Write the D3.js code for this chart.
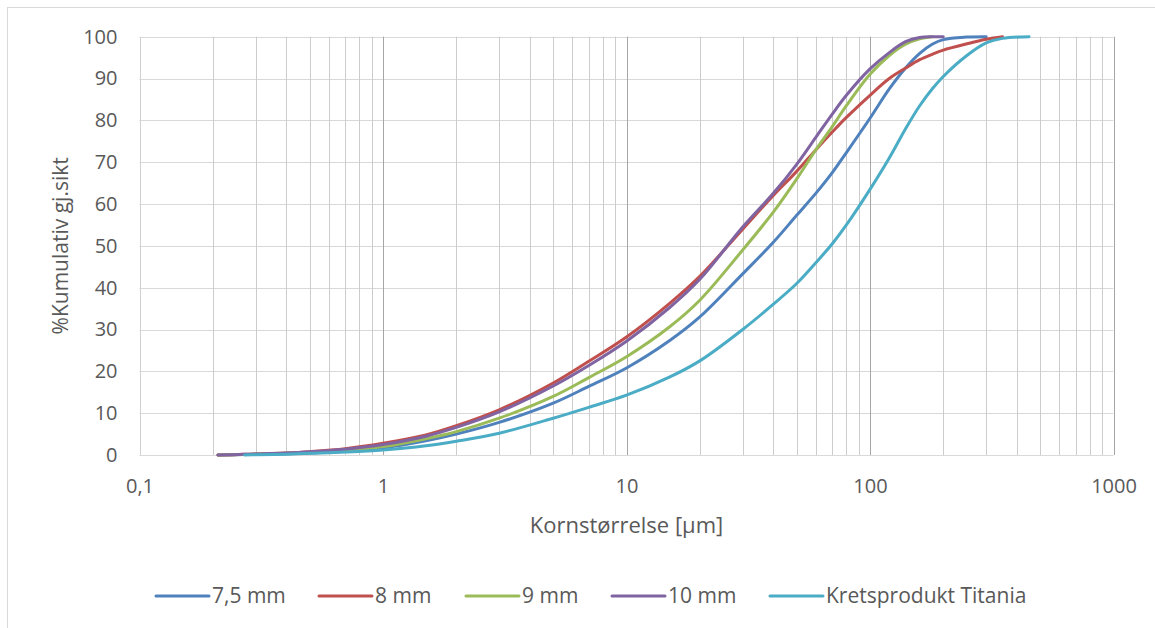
<!DOCTYPE html>
<html>
<head>
<meta charset="utf-8">
<script src="https://cdn.jsdelivr.net/npm/d3@7"></script>
<style>
  body { margin: 0; background: #fff; }
  svg text { font-family: "Open Sans", sans-serif; fill: #595959; }
</style>
</head>
<body>
<div id="chart"></div>
<script>
// chart size and plot box
const width = 1155;
const height = 628;
const margin = {left: 139.5, right: 41.5, top: 36.7, bottom: 173};

// particle size (µm) shared by all series
const sizes = [0.21, 0.27, 0.3, 0.4, 0.5, 0.7, 1, 1.5, 2, 3, 5, 7, 10, 15, 20, 30, 40, 50, 60, 70, 80, 100, 120, 140, 160, 180, 200, 250, 300, 350, 450];

// cumulative % passing (null = no point)
const s75 = [0, 0.1, 0.15, 0.3, 0.5, 0.9, 1.7, 3.4, 5.0, 7.8, 12.4, 16.4, 20.8, 27.3, 33, 43.3, 50.8, 57.3, 62.6, 67.5, 72.3, 80.5, 87.5, 92.5, 96, 98.2, 99.3, 99.9, 100, null, null];
const s8 = [0, 0.15, 0.25, 0.5, 0.8, 1.5, 2.8, 4.8, 7.0, 10.8, 17.2, 22.4, 28.2, 36.2, 42.7, 54, 62, 67.8, 73, 77.2, 80.7, 86, 90, 92.5, 94.5, 95.8, 96.8, 98.3, 99.4, 100, null];
const s9 = [0, 0.1, 0.2, 0.4, 0.6, 1.1, 2.0, 3.9, 5.6, 8.8, 14.0, 18.5, 23.5, 30.6, 37, 49, 58, 66, 73, 78.5, 83.5, 91, 95.5, 98.2, 99.5, 100, null, null, null, null, null];
const s10 = [0, 0.15, 0.22, 0.45, 0.75, 1.4, 2.5, 4.5, 6.6, 10.3, 16.5, 21.4, 27.2, 35.2, 42, 54.5, 62.5, 69.5, 76, 81.5, 86, 92.3, 96.2, 98.8, 99.8, 100, 100, null, null, null, null];
const sTitania = [null, 0, 0.05, 0.2, 0.4, 0.7, 1.2, 2.2, 3.3, 5.2, 8.8, 11.4, 14.3, 18.6, 22.5, 30, 36, 41, 46, 50.5, 55, 63.5, 71, 78, 83.5, 87.5, 90.5, 95.5, 98.5, 99.6, 100];

const seriesNames = ["7,5 mm", "8 mm", "9 mm", "10 mm", "Kretsprodukt Titania"];
const seriesValues = [s75, s8, s9, s10, sTitania];
const colors = ["#4f81bd", "#c0504d", "#9bbb59", "#8064a2", "#4bacc6"];

const xTicks = [0.1, 1, 10, 100, 1000];
const yTicks = [0, 10, 20, 30, 40, 50, 60, 70, 80, 90, 100];

const svg = d3.select("#chart")
  .append("svg")
  .attr("width", width)
  .attr("height", height);

// outer chart border
svg.append("rect")
  .attr("x", 7.5).attr("y", 7.5)
  .attr("width", 1160).attr("height", 640)
  .attr("fill", "none")
  .attr("stroke", "#d9d9d9");

const x = d3.scaleLog()
  .domain([0.1, 1000])
  .range([margin.left, width - margin.right]);

const y = d3.scaleLinear()
  .domain([0, 100])
  .range([height - margin.bottom, margin.top]);

// horizontal grid
svg.append("g")
  .selectAll("line")
  .data(yTicks)
  .join("line")
    .attr("x1", x(0.1)).attr("x2", x(1000))
    .attr("y1", d => Math.round(y(d)) + 0.5)
    .attr("y2", d => Math.round(y(d)) + 0.5)
    .attr("stroke", "#d9d9d9");

// vertical grid, darker at decades
svg.append("g")
  .selectAll("line")
  .data(x.ticks())
  .join("line")
    .attr("x1", d => Math.round(x(d)) + 0.5)
    .attr("x2", d => Math.round(x(d)) + 0.5)
    .attr("y1", y(0)).attr("y2", y(100))
    .attr("stroke", d => {
      const e = Math.log10(d);
      if (d === 0.1) return "#d0d0d0";
      return Math.abs(e - Math.round(e)) < 1e-9 ? "#a6a6a6" : "#cccccc";
    });

// axes labels
const no = d3.formatLocale({decimal: ",", thousands: "", grouping: [3], currency: ["", ""]});

svg.append("g")
  .attr("transform", `translate(0,${y(0)})`)
  .call(d3.axisBottom(x).tickValues(xTicks).tickSize(0).tickPadding(24)
        .tickFormat(no.format("~g")))
  .call(g => g.select(".domain").remove())
  .selectAll("text")
    .attr("font-size", "20px")
    .attr("fill", "#595959");

svg.append("g")
  .attr("transform", `translate(${margin.left},0)`)
  .call(d3.axisLeft(y).tickValues(yTicks).tickSize(0).tickPadding(22))
  .call(g => g.select(".domain").remove())
  .selectAll("text")
    .attr("font-size", "20px")
    .attr("fill", "#595959");

svg.append("text")
  .attr("x", (x(0.1) + x(1000)) / 2)
  .attr("y", 533)
  .attr("text-anchor", "middle")
  .attr("font-size", "22px")
  .text("Kornstørrelse [µm]");

svg.append("text")
  .attr("transform", `translate(68,${(y(0) + y(100)) / 2}) rotate(-90)`)
  .attr("text-anchor", "middle")
  .attr("font-size", "21px")
  .text("%Kumulativ gj.sikt");

// lines
const line = d3.line()
  .defined(d => d[1] !== null)
  .x(d => x(d[0]))
  .y(d => y(d[1]))
  .curve(d3.curveCatmullRom.alpha(0.5));

seriesValues.forEach((vals, i) => {
  svg.append("path")
    .datum(sizes.map((s, j) => [s, vals[j]]))
    .attr("fill", "none")
    .attr("stroke", colors[i])
    .attr("stroke-width", 3)
    .attr("stroke-linecap", "round")
    .attr("d", line);
});

// legend
const legendX = [156, 319, 466, 612, 770];
const legend = svg.append("g");
seriesNames.forEach((name, i) => {
  const g = legend.append("g").attr("transform", `translate(${legendX[i]},596)`);
  g.append("line")
    .attr("x1", 0).attr("x2", 53)
    .attr("stroke", colors[i])
    .attr("stroke-width", 3)
    .attr("stroke-linecap", "round");
  g.append("text")
    .attr("x", 56)
    .attr("dy", "0.35em")
    .attr("font-size", "21px")
    .text(name);
});
</script>
</body>
</html>
